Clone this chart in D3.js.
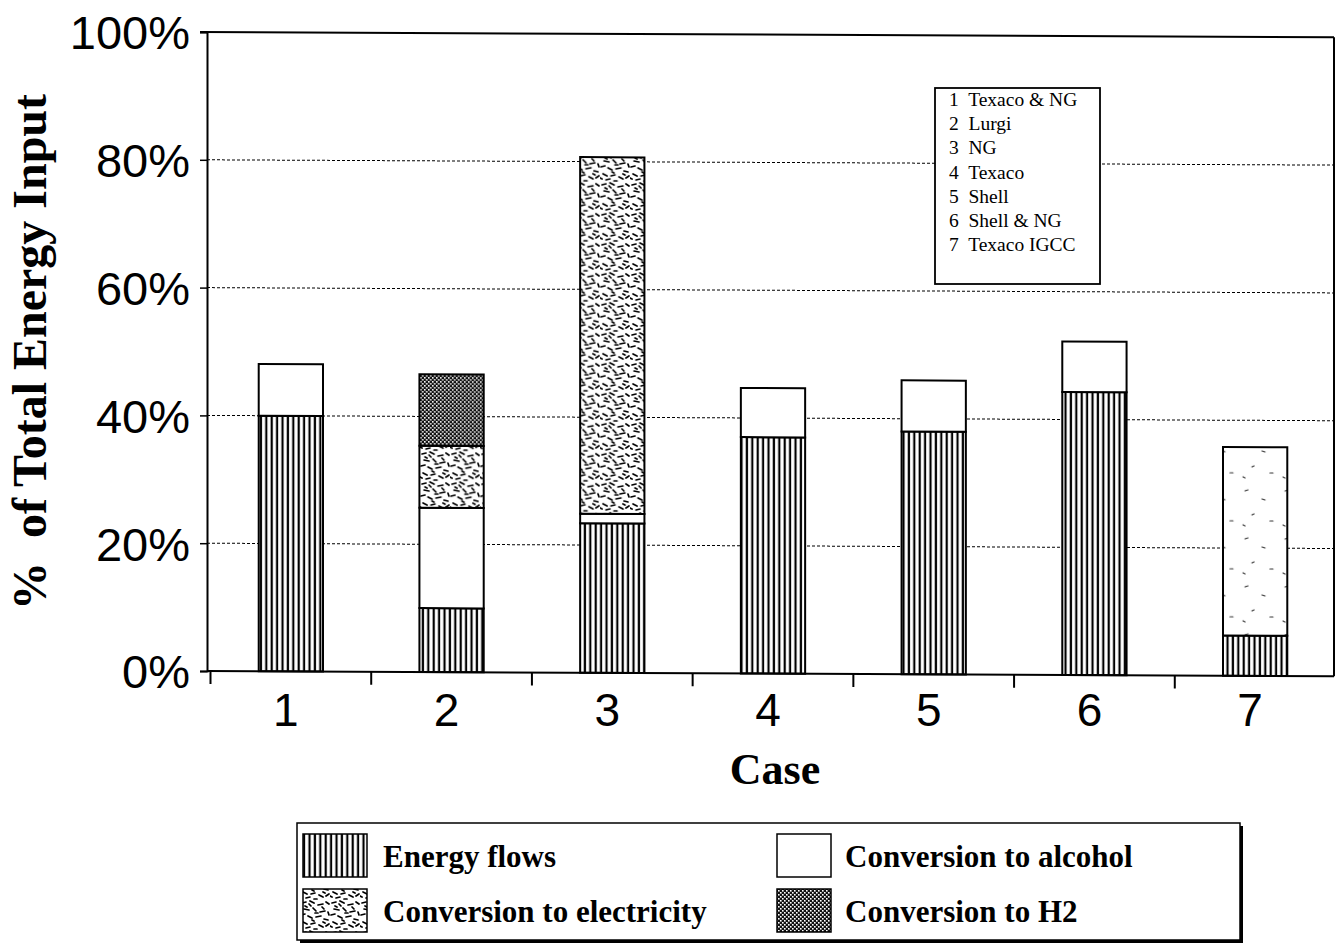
<!DOCTYPE html>
<html>
<head>
<meta charset="utf-8">
<script src="https://cdn.jsdelivr.net/npm/d3@7"></script>
<style>
html,body{margin:0;padding:0;background:#fff;}
svg{display:block;}
</style>
</head>
<body>
<svg id="chart" width="1340" height="946"></svg>
<script>
// ---- data ----
const cases = ["1","2","3","4","5","6","7"];
const energyFlows = [40.0, 10.0, 23.4, 37.0, 38.0, 44.3, 6.3];
const convAlcohol = [8.1, 15.7, 1.5, 7.7, 8.0, 7.9, 0];
const convElectricity = [0, 9.7, 55.8, 0, 0, 0, 29.5];
const convH2 = [0, 11.2, 0, 0, 0, 0, 0];
const seriesNames = ["Energy flows","Conversion to alcohol","Conversion to electricity","Conversion to H2"];
const yTicks = [0, 20, 40, 60, 80, 100];
const caseNames = ["1  Texaco & NG","2  Lurgi","3  NG","4  Texaco","5  Shell","6  Shell & NG","7  Texaco IGCC"];

const rows = cases.map((c,i)=>({case:c, ef:energyFlows[i], alc:convAlcohol[i], el:convElectricity[i], h2:convH2[i]}));
const keys = ["ef","alc","el","h2"];

const svg = d3.select("#chart");
const defs = svg.append("defs");

// patterns (texture only)
const pStripe = defs.append("pattern").attr("id","stripe").attr("patternUnits","userSpaceOnUse")
  .attr("width",5.4).attr("height",10);
pStripe.append("rect").attr("width",5.4).attr("height",10).attr("fill","#fff");
pStripe.append("rect").attr("x",0.6).attr("width",2.2).attr("height",10).attr("fill","#000");

const pH2 = defs.append("pattern").attr("id","h2").attr("patternUnits","userSpaceOnUse")
  .attr("width",4).attr("height",4);
pH2.append("rect").attr("width",4).attr("height",4).attr("fill","#111");
pH2.append("rect").attr("x",0).attr("y",0).attr("width",1.6).attr("height",1.6).attr("fill","#fff");
pH2.append("rect").attr("x",2).attr("y",2).attr("width",1.6).attr("height",1.6).attr("fill","#fff");

// speckle texture tile: fixed short dashes
const speck = [[2,3,6,2],[10,1,14,3],[18,5,23,4],[26,2,29,4],[4,9,9,10],[13,8,16,11],[20,12,25,11],
  [1,15,5,14],[8,16,12,18],[16,17,21,16],[24,19,28,20],[3,22,7,24],[11,24,15,23],[19,25,23,27],
  [26,26,29,24],[6,28,10,27],[14,29,17,29],[22,7,24,9],[28,12,29,15],[9,4,11,6],
  [5,6,7,7],[15,13,18,13],[0,26,2,27],[23,22,25,23],[12,20,14,21]];
const pEl = defs.append("pattern").attr("id","elec").attr("patternUnits","userSpaceOnUse")
  .attr("width",30).attr("height",30);
pEl.append("rect").attr("width",30).attr("height",30).attr("fill","#fff");
speck.forEach(s=>pEl.append("line").attr("x1",s[0]).attr("y1",s[1]).attr("x2",s[2]).attr("y2",s[3])
  .attr("stroke","#000").attr("stroke-width",1.7).attr("stroke-linecap","round"));

const speckSparse = [[5,6,8,5],[22,14,25,15],[12,30,14,29],[30,36,33,36],[3,40,5,41]];
const pElS = defs.append("pattern").attr("id","elecSparse").attr("patternUnits","userSpaceOnUse")
  .attr("width",40).attr("height",48);
pElS.append("rect").attr("width",40).attr("height",48).attr("fill","#fff");
speckSparse.forEach(s=>pElS.append("line").attr("x1",s[0]).attr("y1",s[1]).attr("x2",s[2]).attr("y2",s[3])
  .attr("stroke","#333").attr("stroke-width",1.2).attr("stroke-linecap","round"));

const fills = {ef:"url(#stripe)", alc:"#fff", el:"url(#elec)", h2:"url(#h2)"};

// scales
const x = d3.scaleBand().domain(cases).range([210.5,1335.5]).paddingInner(0.6).paddingOuter(0.3);
const y = d3.scaleLinear().domain([0,100]).range([671,32]);

// plot group, slightly sheared like the scanned original (verticals stay vertical)
const plot = svg.append("g").attr("transform","translate(207,671) skewY(0.27) translate(-207,-671)");

// gridlines
plot.append("g").selectAll("line").data(yTicks.filter(t=>t>0 && t<100)).join("line")
  .attr("x1",207).attr("x2",1334).attr("y1",d=>y(d)).attr("y2",d=>y(d))
  .attr("stroke","#000").attr("stroke-width",1).attr("stroke-dasharray","3,2");

// plot frame top/right
plot.append("line").attr("x1",200).attr("x2",1334).attr("y1",y(100)).attr("y2",y(100)).attr("stroke","#000").attr("stroke-width",2);
plot.append("line").attr("x1",1334).attr("x2",1334).attr("y1",y(100)).attr("y2",y(0)).attr("stroke","#000").attr("stroke-width",2);

// case name box
const lb = svg.append("g");
lb.append("rect").attr("x",935).attr("y",88).attr("width",165).attr("height",196)
  .attr("fill","#fff").attr("stroke","#000").attr("stroke-width",1.8);
lb.selectAll("text").data(caseNames).join("text")
  .attr("x",949).attr("y",(d,i)=>106+i*24.2)
  .attr("font-family","Liberation Serif, serif").attr("font-size",19.5).attr("fill","#000")
  .attr("xml:space","preserve").style("white-space","pre")
  .text(d=>d);
// 80% gridline crosses legend box in original
plot.append("line").attr("x1",935).attr("x2",1100).attr("y1",y(80)).attr("y2",y(80))
  .attr("stroke","#000").attr("stroke-width",1).attr("stroke-dasharray","3,2");

// stacked bars
const stack = d3.stack().keys(keys)(rows);
const gBars = plot.append("g");
stack.forEach(layer=>{
  gBars.selectAll(null).data(layer.filter(d=>d[1]-d[0]>0)).join("rect")
    .attr("x",d=>x(d.data.case)).attr("width",x.bandwidth())
    .attr("y",d=>y(d[1])).attr("height",d=>y(d[0])-y(d[1]))
    .attr("fill",d=> (layer.key==="el" && d.data.case==="7") ? "url(#elecSparse)" : fills[layer.key])
    .attr("stroke","#000").attr("stroke-width",2);
});

// y axis
const yAxis = d3.axisLeft(y).tickValues(yTicks).tickFormat(d=>d+"%").tickSize(7).tickPadding(10);
const gy = svg.append("g").attr("transform","translate(207,0)").call(yAxis);
gy.select(".domain").attr("stroke-width",2);
gy.selectAll(".tick line").attr("stroke-width",1.5);
gy.selectAll("text").attr("font-family","Liberation Sans, Arial, sans-serif").attr("font-size",47).attr("fill","#000").attr("dy","0.36em");

// x axis line (sheared) and labels (upright, level)
plot.append("line").attr("x1",207).attr("x2",1334).attr("y1",y(0)).attr("y2",y(0))
  .attr("stroke","#000").attr("stroke-width",2);
const xAxis = d3.axisBottom(x).tickSize(0).tickPadding(22);
const gx = svg.append("g").attr("transform",`translate(0,${y(0)})`).call(xAxis);
gx.select(".domain").remove();
gx.selectAll("text").attr("font-family","Liberation Sans, Arial, sans-serif").attr("font-size",46).attr("fill","#000").attr("dx",-5);
// ticks at category boundaries
plot.append("g").selectAll("line").data(cases.map(c=>x(c)+x.bandwidth()/2 - x.step()/2)).join("line")
  .attr("x1",d=>d).attr("x2",d=>d).attr("y1",y(0)).attr("y2",y(0)+13)
  .attr("stroke","#000").attr("stroke-width",2);

// axis titles
svg.append("text").attr("transform","translate(46,352) rotate(-90)").attr("text-anchor","middle")
  .attr("font-family","Liberation Serif, serif").attr("font-weight","bold").attr("font-size",48)
  .attr("fill","#000").attr("xml:space","preserve").style("white-space","pre").text("%  of Total Energy Input");
svg.append("text").attr("x",775).attr("y",784).attr("text-anchor","middle")
  .attr("font-family","Liberation Serif, serif").attr("font-weight","bold").attr("font-size",44)
  .attr("fill","#000").text("Case");

// bottom legend
const lg = svg.append("g");
lg.append("rect").attr("x",300).attr("y",826).attr("width",943).attr("height",117).attr("fill","#000");
lg.append("rect").attr("x",297).attr("y",823).attr("width",943).attr("height",117)
  .attr("fill","#fff").attr("stroke","#000").attr("stroke-width",1.5);
const legItems = [
  {name:seriesNames[0], key:"ef", x:303, y:834},
  {name:seriesNames[1], key:"alc", x:777, y:834},
  {name:seriesNames[2], key:"el", x:303, y:889},
  {name:seriesNames[3], key:"h2", x:777, y:889}
];
legItems.forEach(it=>{
  lg.append("rect").attr("x",it.x).attr("y",it.y).attr("width",it.key==="ef"||it.key==="el"?64:54).attr("height",43)
    .attr("fill",fills[it.key]).attr("stroke","#000").attr("stroke-width",1.5);
  lg.append("text").attr("x",it.x + (it.key==="ef"||it.key==="el"?80:68)).attr("y",it.y+33)
    .attr("font-family","Liberation Serif, serif").attr("font-weight","bold").attr("font-size",31)
    .attr("fill","#000").text(it.name);
});
</script>
</body>
</html>
